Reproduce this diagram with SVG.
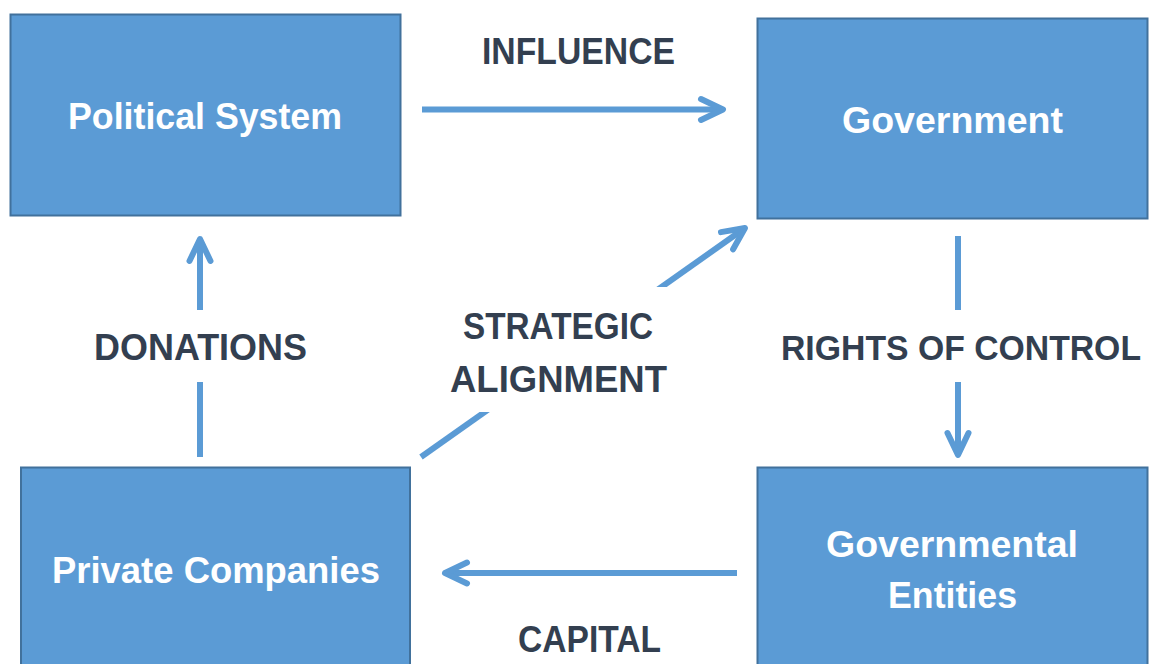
<svg xmlns="http://www.w3.org/2000/svg" width="1150" height="664" viewBox="0 0 1150 664">
<style>
.box{fill:#5b9bd5;stroke:#41719c;stroke-width:2}
.nt{font-family:"Liberation Sans",Arial,sans-serif;font-weight:700;font-size:37px;fill:#ffffff;text-anchor:middle}
.lt{font-family:"Liberation Sans",Arial,sans-serif;font-weight:700;font-size:36px;fill:#333f50;text-anchor:middle}
.ln{fill:none;stroke:#5b9bd5;stroke-width:6}
</style>
<defs>
<marker id="ah" markerUnits="userSpaceOnUse" orient="auto" refX="0" refY="0" markerWidth="60" markerHeight="60" viewBox="-30 -30 60 60" overflow="visible">
<path d="M -22 -10.5 L 0 0 L -22 10.5" fill="none" stroke="#5b9bd5" stroke-width="6" stroke-linecap="round" stroke-linejoin="round"/>
</marker>
<clipPath id="diagclip">
<rect x="380" y="180" width="400" height="107"/>
<rect x="380" y="412" width="400" height="70"/>
</clipPath>
</defs>
<g id="connectors">
<line class="ln" x1="422" y1="109.5" x2="723" y2="109.5" marker-end="url(#ah)"/>
<line class="ln" x1="200" y1="457" x2="200" y2="382"/>
<line class="ln" x1="200" y1="310" x2="200" y2="239" marker-end="url(#ah)"/>
<line class="ln" x1="958" y1="236" x2="958" y2="310"/>
<line class="ln" x1="958" y1="382" x2="958" y2="455" marker-end="url(#ah)"/>
<line class="ln" x1="737" y1="573" x2="445" y2="573" marker-end="url(#ah)"/>
<line class="ln" x1="421" y1="457" x2="745" y2="228" marker-end="url(#ah)" clip-path="url(#diagclip)"/>
<text class="lt" x="578.5" y="64" textLength="193" lengthAdjust="spacingAndGlyphs">INFLUENCE</text>
<text class="lt" x="200.5" y="360" textLength="213" lengthAdjust="spacingAndGlyphs">DONATIONS</text>
<text class="lt" x="961" y="360" textLength="360" lengthAdjust="spacingAndGlyphs" style="font-size:34.5px">RIGHTS OF CONTROL</text>
<text class="lt" x="558" y="339" textLength="190" lengthAdjust="spacingAndGlyphs">STRATEGIC</text>
<text class="lt" x="558.5" y="392" textLength="217" lengthAdjust="spacingAndGlyphs">ALIGNMENT</text>
<text class="lt" x="589.5" y="652" textLength="143" lengthAdjust="spacingAndGlyphs">CAPITAL</text>
</g>
<g id="political-system">
<rect class="box" x="10.5" y="14.5" width="390" height="201"/>
<text class="nt" x="205" y="129" textLength="274" lengthAdjust="spacingAndGlyphs">Political System</text>
</g>
<g id="government">
<rect class="box" x="757.5" y="18.5" width="390" height="200"/>
<text class="nt" x="952.5" y="133" textLength="221" lengthAdjust="spacingAndGlyphs">Government</text>
</g>
<g id="private-companies">
<rect class="box" x="21" y="467.5" width="389" height="220"/>
<text class="nt" x="216" y="583" textLength="328" lengthAdjust="spacingAndGlyphs">Private Companies</text>
</g>
<g id="governmental-entities">
<rect class="box" x="757.5" y="467.5" width="390" height="220"/>
<text class="nt" x="952" y="557" textLength="252" lengthAdjust="spacingAndGlyphs">Governmental</text>
<text class="nt" x="952.5" y="608" textLength="129" lengthAdjust="spacingAndGlyphs">Entities</text>
</g>
</svg>
